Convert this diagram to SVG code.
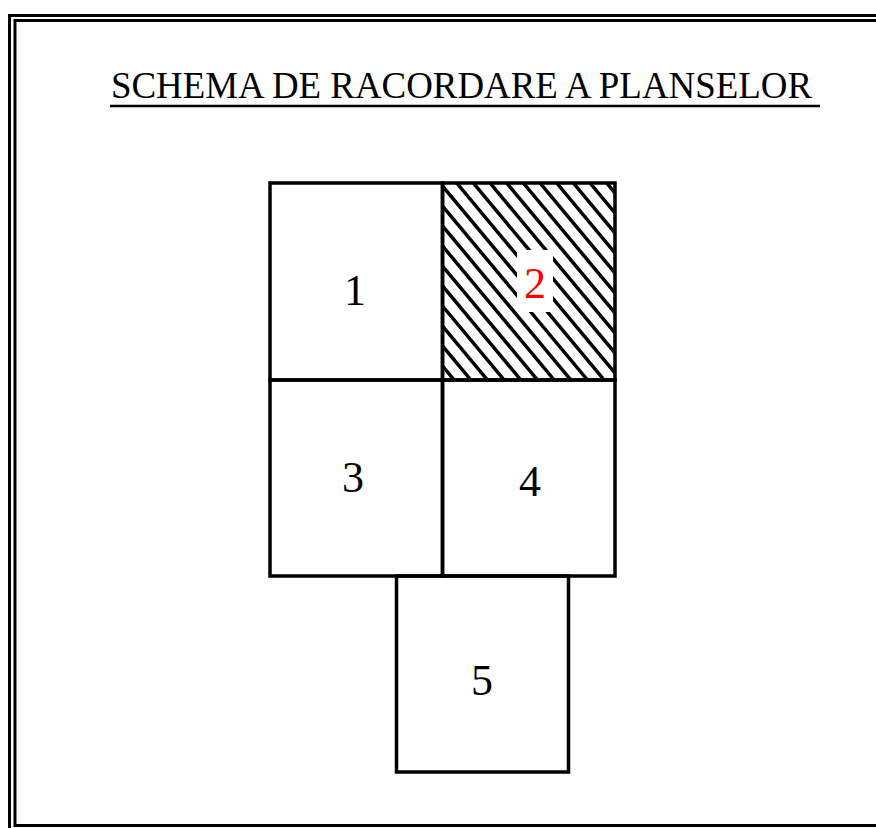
<svg xmlns="http://www.w3.org/2000/svg" width="876" height="828" viewBox="0 0 876 828">
<style>
.frame{fill:none;stroke:#000;stroke-width:3}
.box{fill:none;stroke:#000;stroke-width:3.5}
.hatch{fill:none;stroke:#000;stroke-width:3.5}
.lbl{font-family:'Liberation Serif','Times New Roman',serif;font-size:44px;text-anchor:middle;fill:#000}
.title{font-family:'Liberation Serif','Times New Roman',serif;font-size:38px;fill:#000}
</style>
<defs>
<clipPath id="c2"><rect x="442.5" y="183" width="172.5" height="197"/></clipPath>
<mask id="m2" maskUnits="userSpaceOnUse" x="0" y="0" width="876" height="828">
<rect x="442.5" y="183" width="172.5" height="197" fill="#fff"/>
<rect x="517" y="250" width="36" height="62" fill="#000"/>
</mask>
</defs>
<rect width="876" height="828" fill="#fff"/>
<g id="frame">
<path class="frame" d="M9.5,828 V15.5 H876" stroke-width="3.5"/>
<path class="frame" d="M876,20.5 H15 V825.5 H876"/>
</g>
<g id="title">
<text class="title" font-family="Liberation Serif, serif" x="111" y="97.5" textLength="701" lengthAdjust="spacingAndGlyphs">SCHEMA DE RACORDARE  A PLANSELOR</text>
<line x1="110" y1="106" x2="820" y2="106" stroke="#000" stroke-width="2.5"/>
</g>
<g id="hatching" clip-path="url(#c2)">
<path class="hatch" mask="url(#m2)" d="M290,183 L454.2,380 M306.7,183 L470.9,380 M323.3,183 L487.5,380 M340,183 L504.2,380 M356.7,183 L520.9,380 M373.3,183 L537.5,380 M390,183 L554.2,380 M406.7,183 L570.9,380 M423.3,183 L587.5,380 M440,183 L604.2,380 M456.7,183 L620.9,380 M473.3,183 L637.5,380 M490,183 L654.2,380 M506.7,183 L670.9,380 M523.3,183 L687.5,380 M540,183 L704.2,380 M556.7,183 L720.9,380 M573.3,183 L737.5,380 M590,183 L754.2,380 M606.7,183 L770.9,380"/>
</g>
<g id="sheet1">
<rect class="box" x="270" y="183" width="172.5" height="197"/>
<text class="lbl" font-family="Liberation Serif, serif" x="355" y="305">1</text>
</g>
<g id="sheet2">
<rect class="box" x="442.5" y="183" width="172.5" height="197"/>
<text class="lbl" font-family="Liberation Serif, serif" x="535" y="298" style="fill:#ff0000">2</text>
</g>
<g id="sheet3">
<rect class="box" x="270" y="380" width="172.5" height="196"/>
<text class="lbl" font-family="Liberation Serif, serif" x="353" y="492">3</text>
</g>
<g id="sheet4">
<rect class="box" x="442.5" y="380" width="172.5" height="196"/>
<text class="lbl" font-family="Liberation Serif, serif" x="530" y="496">4</text>
</g>
<g id="sheet5">
<rect class="box" x="396.5" y="576" width="172" height="196"/>
<text class="lbl" font-family="Liberation Serif, serif" x="482" y="695">5</text>
</g>
</svg>
